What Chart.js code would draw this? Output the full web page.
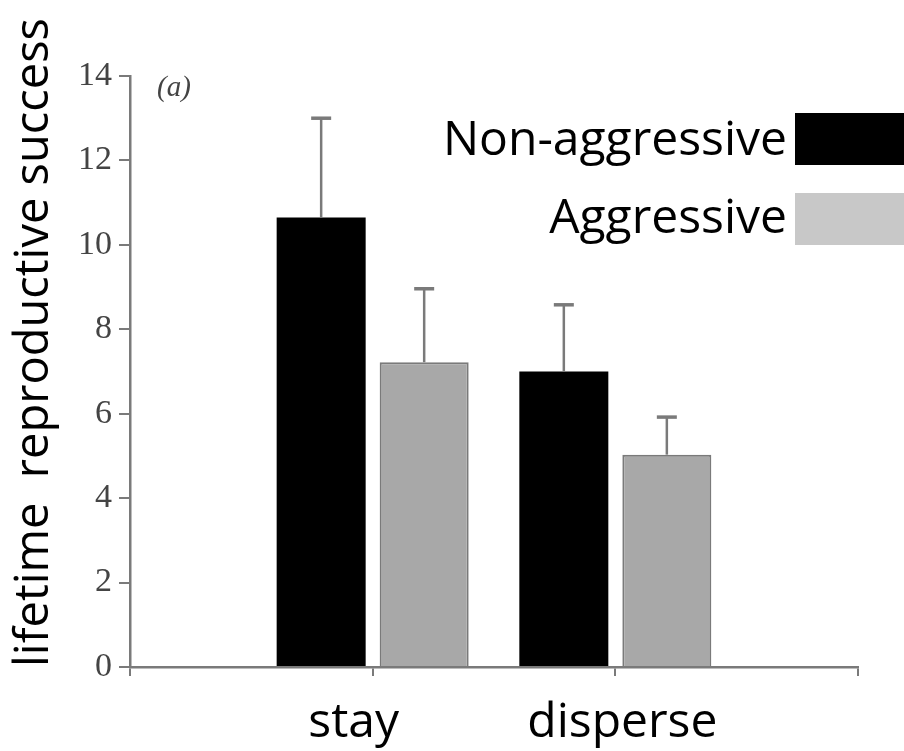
<!DOCTYPE html>
<html>
<head>
<meta charset="utf-8">
<script src="https://cdn.jsdelivr.net/npm/chart.js@4"></script>
<style>
  html, body { margin: 0; padding: 0; background: #fff; }
</style>
</head>
<body>
<canvas id="lrsChart" width="904" height="751"></canvas>
<script>
// data
const categories = ['', 'stay', 'disperse', ''];
const nonAggressive = [null, 10.65, 7.0, null];
const aggressive = [null, 7.22, 5.03, null];
// upper error (SE) for each bar
const nonAggressiveErr = [null, 2.35, 1.58, null];
const aggressiveErr = [null, 1.74, 0.89, null];
const yTicks = [0, 2, 4, 6, 8, 10, 12, 14];
const seriesNames = ['Non-aggressive', 'Aggressive'];

const bigFont = '"Open Sans", sans-serif';

// one-sided error bars, drawn from the y scale
const errorBars = {
  id: 'errorBars',
  afterDatasetsDraw(chart) {
    const ctx = chart.ctx;
    const yScale = chart.scales.y;
    const errs = [nonAggressiveErr, aggressiveErr];
    chart.data.datasets.forEach((ds, di) => {
      const meta = chart.getDatasetMeta(di);
      meta.data.forEach((bar, i) => {
        const v = ds.data[i];
        if (v == null) return;
        const top = yScale.getPixelForValue(v + errs[di][i]);
        ctx.save();
        ctx.strokeStyle = '#7a7a7a';
        ctx.lineWidth = 2.5;
        ctx.beginPath();
        ctx.moveTo(bar.x, bar.y);
        ctx.lineTo(bar.x, top);
        ctx.stroke();
        ctx.lineWidth = 3.5;
        ctx.beginPath();
        ctx.moveTo(bar.x - 10, top);
        ctx.lineTo(bar.x + 10, top);
        ctx.stroke();
        ctx.restore();
      });
    });
  }
};

// big legend on the right, box after the text, plus labels
const extras = {
  id: 'extras',
  afterDraw(chart) {
    const ctx = chart.ctx;
    const xScale = chart.scales.x;
    const legendColors = ['#000000', '#c8c8c8'];
    const rows = [
      { base: 155, boxTop: 113 },
      { base: 233, boxTop: 193 }
    ];
    ctx.save();
    ctx.font = '48px ' + bigFont;
    ctx.textAlign = 'right';
    ctx.textBaseline = 'alphabetic';
    seriesNames.forEach((name, i) => {
      ctx.fillStyle = '#000';
      ctx.fillText(name, 787, rows[i].base);
      ctx.fillStyle = legendColors[i];
      ctx.fillRect(795, rows[i].boxTop, 120, 52);
    });

    // category labels under the axis
    ctx.fillStyle = '#000';
    ctx.textAlign = 'center';
    const shifts = [0, -19, 7, 0];
    categories.forEach((c, i) => {
      if (!c) return;
      ctx.fillText(c, xScale.getPixelForValue(i) + shifts[i], 737);
    });

    // panel mark
    ctx.font = 'italic 29px "Liberation Serif", serif';
    ctx.fillStyle = '#444';
    ctx.textAlign = 'left';
    ctx.fillText('(a)', 157, 96);
    ctx.restore();
  }
};

const ctx = document.getElementById('lrsChart').getContext('2d');
new Chart(ctx, {
  type: 'bar',
  data: {
    labels: categories,
    datasets: [
      {
        label: seriesNames[0],
        data: nonAggressive,
        backgroundColor: '#000000',
        borderColor: '#000000',
        borderWidth: 0
      },
      {
        label: seriesNames[1],
        data: aggressive,
        backgroundColor: '#a8a8a8',
        borderColor: '#7a7a7a',
        borderWidth: 2
      }
    ]
  },
  options: {
    responsive: false,
    animation: false,
    devicePixelRatio: 1,
    categoryPercentage: 0.849,
    barPercentage: 0.864,
    layout: { padding: { top: 76, right: 46, left: 0, bottom: 0 } },
    plugins: {
      legend: { display: false },
      tooltip: { enabled: false }
    },
    scales: {
      x: {
        offset: false,
        grid: {
          offset: false,
          drawOnChartArea: false,
          drawTicks: true,
          tickLength: 9,
          color: '#7a7a7a',
          lineWidth: 2
        },
        border: { color: '#7a7a7a', width: 2.5 },
        ticks: { display: false },
        afterFit(scale) { scale.height = 84; }
      },
      y: {
        min: 0,
        max: 14,
        afterBuildTicks(scale) {
          scale.ticks = yTicks.map(v => ({ value: v }));
        },
        grid: {
          drawOnChartArea: false,
          drawTicks: true,
          tickLength: 11,
          color: '#7a7a7a',
          lineWidth: 2
        },
        border: { color: '#7a7a7a', width: 2.5 },
        ticks: {
          padding: 7,
          color: '#444',
          font: { family: '"Liberation Serif", serif', size: 34 }
        },
        title: {
          display: true,
          text: 'lifetime  reproductive success',
          align: 'start',
          color: '#000',
          padding: { top: 11, bottom: 0 },
          font: { family: bigFont, size: 47, lineHeight: 1 }
        },
        afterFit(scale) { scale.width = 130; }
      }
    }
  },
  plugins: [errorBars, extras]
});
</script>
</body>
</html>
